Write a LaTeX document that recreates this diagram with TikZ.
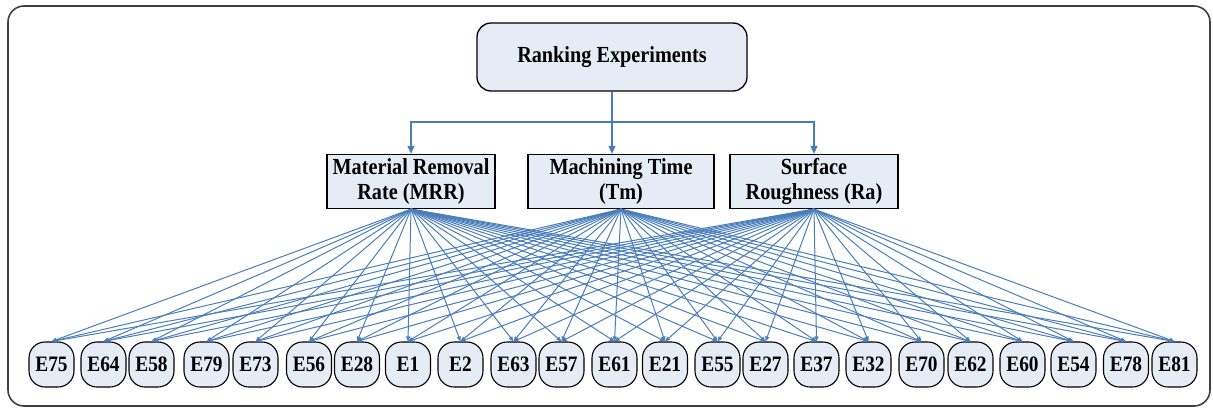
\documentclass[tikz,border=0pt]{standalone}
\usepackage{fontspec}
\setmainfont{Liberation Serif}
\newfontfamily\condserif[FakeStretch=0.88]{Liberation Serif}
\usetikzlibrary{arrows.meta}
\definecolor{lineblue}{HTML}{4A7EBB}
\definecolor{boxfill}{HTML}{E6ECF6}
\definecolor{framegray}{HTML}{404040}
\tikzset{
  frameline/.style={draw=framegray,line width=1.6pt,rounded corners=16pt},
  rankbox/.style={draw=black,line width=1.3pt,fill=boxfill,rounded corners=14pt,
    minimum width=270pt,minimum height=68pt,inner sep=0pt,
    font=\condserif\fontsize{23}{25}\selectfont\bfseries},
  critbox/.style={draw=black,line width=1.3pt,fill=boxfill,
    minimum height=54pt,inner sep=0pt,align=center,
    font=\condserif\fontsize{23}{25}\selectfont\bfseries},
  enode/.style={draw=black,line width=1.1pt,fill=boxfill,rounded corners=16pt,
    minimum width=45pt,minimum height=45pt,inner sep=0pt,
    font=\condserif\fontsize{22}{24}\selectfont\bfseries},
  bluearrow/.style={draw=lineblue,line width=1.2pt,-{Triangle[length=8pt,width=7pt]}},
  fan/.style={draw=lineblue,line width=1pt,-{Triangle[length=5pt,width=4pt]}}
}
\begin{document}
\begin{tikzpicture}[x=1pt,y=-1pt]
\useasboundingbox (0,0) rectangle (1213,410);
\draw[frameline] (8,6) rectangle (1210,406);
\node[rankbox] (rank) at (612,57) {Ranking Experiments};
\node[critbox,minimum width=168pt] (mrr) at (411,181.5) {Material Removal\\Rate (MRR)};
\node[critbox,minimum width=186pt] (tm) at (621,181.5) {Machining Time\\(Tm)};
\node[critbox,minimum width=168pt] (ra) at (814,181.5) {Surface\\Roughness (Ra)};
\coordinate (jn) at (612,122);
\draw[lineblue,line width=1.2pt] (rank.south) -- (jn);
\draw[bluearrow] (jn) -| (mrr.north);
\draw[bluearrow] (jn) -| (ra.north);
\draw[bluearrow] (jn) -- (jn |- tm.north);
\foreach \n/\x [count=\i] in {E75/51.5,E64/103.5,E58/151.5,E79/206.5,E73/255.5,E56/309,E28/357,E1/408,E2/460.5,E63/513.5,E57/561.5,E61/614.5,E21/665,E55/717.5,E27/765.5,E37/816.5,E32/868.5,E70/921.5,E62/970.5,E60/1022.5,E54/1073.5,E78/1126,E81/1174.5}
  \node[enode] (e\i) at (\x,364.5) {\n};
\foreach \s in {mrr,tm,ra}
  \foreach \i in {1,...,23}
    \draw[fan] (\s.south) -- (e\i.north);
\end{tikzpicture}
\end{document}
